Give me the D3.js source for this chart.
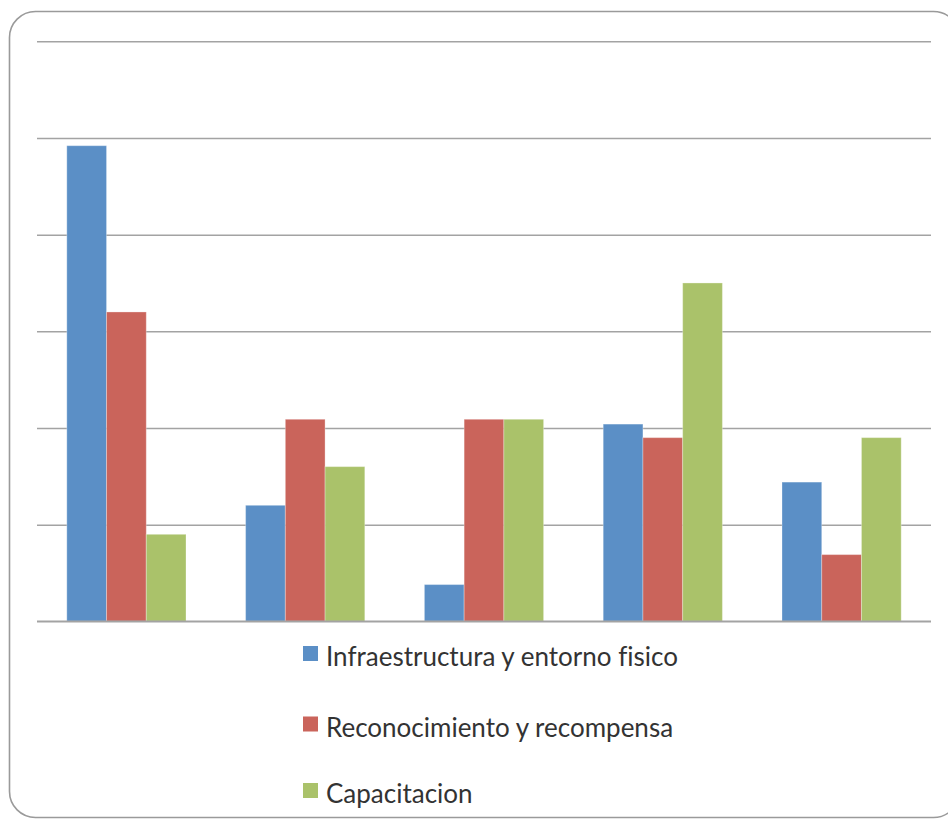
<!DOCTYPE html>
<html>
<head>
<meta charset="utf-8">
<script src="https://cdn.jsdelivr.net/npm/d3@7/dist/d3.min.js"></script>
<style>
  html, body { margin: 0; padding: 0; background: #fff; }
  svg { display: block; }
</style>
</head>
<body>
<svg id="chart" width="948" height="820"></svg>
<script>
// Groups along the x axis (unlabelled in the chart)
const groups = ["G1", "G2", "G3", "G4", "G5"];

// Series names, as shown in the legend
const seriesNames = [
  "Infraestructura y entorno fisico",
  "Reconocimiento y recompensa",
  "Capacitacion"
];

// Values per series, one per group
const infraestructura = [49.2, 12.0, 3.8, 20.4, 14.4];
const reconocimiento  = [32.0, 20.9, 20.9, 19.0, 6.9];
const capacitacion    = [9.0, 16.0, 20.9, 35.0, 19.0];

// Gridline values on the value axis
const gridTicks = [0, 10, 20, 30, 40, 50, 60];

const seriesColors = ["#5B8FC6", "#CA645B", "#AAC26A"];
const seriesValues = [infraestructura, reconocimiento, capacitacion];

const svg = d3.select("#chart");

// Rounded chart frame
svg.append("rect")
  .attr("x", 9.5).attr("y", 11.5)
  .attr("width", 950).attr("height", 806)
  .attr("rx", 26).attr("ry", 26)
  .attr("fill", "#fff")
  .attr("stroke", "#9a9a9a")
  .attr("stroke-width", 1.6);

const plot = { left: 37, right: 931, top: 41.3, bottom: 621.3 };

const y = d3.scaleLinear()
  .domain([0, 60])
  .range([plot.bottom, plot.top]);

const x0 = d3.scaleBand()
  .domain(groups)
  .range([plot.left, plot.right])
  .paddingInner(0)
  .paddingOuter(0);

const x1 = d3.scaleBand()
  .domain(d3.range(seriesNames.length))
  .range([0, x0.bandwidth()])
  .paddingInner(0)
  .paddingOuter(0.75);

// Horizontal gridlines
const yAxis = d3.axisLeft(y)
  .tickValues(gridTicks)
  .tickSize(-(plot.right - plot.left))
  .tickFormat("");

const gAxis = svg.append("g")
  .attr("transform", `translate(${plot.left},0)`)
  .call(yAxis);
gAxis.select(".domain").remove();
gAxis.selectAll(".tick line")
  .attr("stroke", "#a3a3a3")
  .attr("stroke-width", 1.5);

// Bars
const barData = [];
groups.forEach((g, gi) => {
  seriesValues.forEach((vals, si) => {
    barData.push({ group: g, series: si, value: vals[gi] });
  });
});

svg.append("g")
  .selectAll("rect")
  .data(barData)
  .join("rect")
  .attr("x", d => x0(d.group) + x1(d.series))
  .attr("y", d => y(d.value))
  .attr("width", x1.bandwidth())
  .attr("height", d => y(0) - y(d.value))
  .attr("fill", d => seriesColors[d.series])
  .attr("stroke", "rgba(255,255,255,0.3)")
  .attr("stroke-width", 1);

// Baseline drawn over the bars
svg.append("line")
  .attr("x1", plot.left).attr("x2", plot.right)
  .attr("y1", y(0)).attr("y2", y(0))
  .attr("stroke", "#a3a3a3")
  .attr("stroke-width", 1.6);

// Legend
const legend = svg.append("g");
const legendBaselines = [666, 736.5, 803];
seriesNames.forEach((name, i) => {
  const row = legend.append("g")
    .attr("transform", `translate(303,${legendBaselines[i]})`);
  row.append("rect")
    .attr("x", 0).attr("y", -20)
    .attr("width", 15).attr("height", 15)
    .attr("fill", seriesColors[i]);
  row.append("text")
    .attr("x", 23).attr("y", 0)
    .attr("font-family", "Lato, 'Open Sans', sans-serif")
    .attr("font-size", 26)
    .style("font-variant-ligatures", "none")
    .attr("fill", "#333")
    .text(name);
});
</script>
</body>
</html>
